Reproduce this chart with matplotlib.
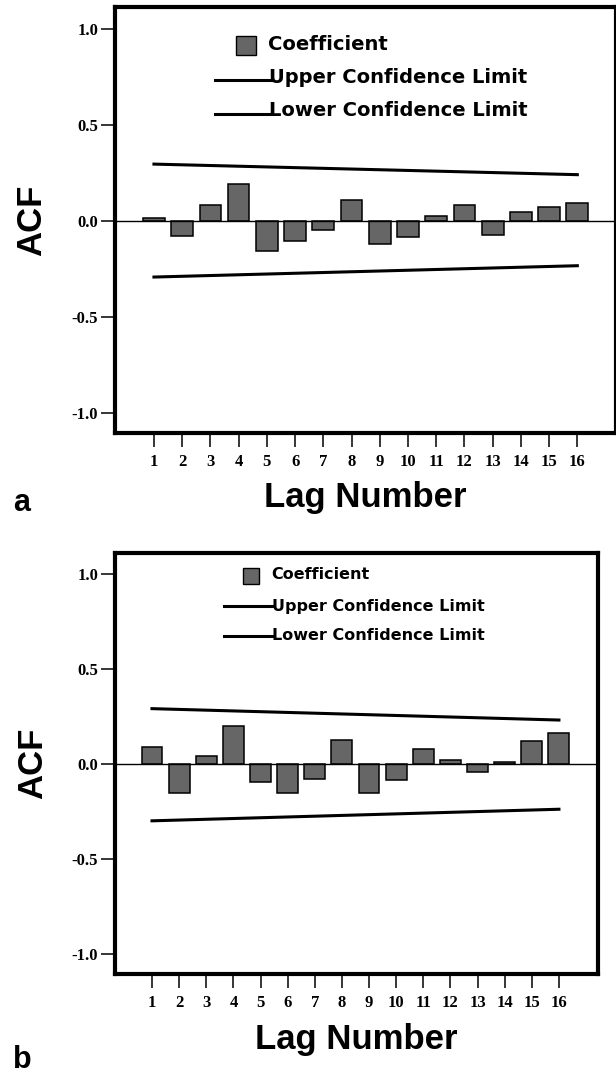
import matplotlib
matplotlib.use("Agg")
import matplotlib.pyplot as plt
from matplotlib.patches import Rectangle
from matplotlib.lines import Line2D

# figure size in pixels (dpi 100)
W, H = 616, 1075

# autocorrelation coefficients per lag
lags = list(range(1, 17))
acf_a = [0.017, -0.080, 0.082, 0.190, -0.156, -0.104, -0.049, 0.108,
         -0.122, -0.087, 0.024, 0.080, -0.073, 0.047, 0.071, 0.095]
acf_b = [0.089, -0.149, 0.042, 0.200, -0.096, -0.149, -0.079, 0.130,
         -0.151, -0.084, 0.079, 0.023, -0.040, 0.010, 0.123, 0.167]

# confidence limits at first and last lag
limit_lags = [1, 16]
upper_a = [0.295, 0.240]
lower_a = [-0.293, -0.234]
upper_b = [0.293, 0.233]
lower_b = [-0.298, -0.237]

legend_labels = ["Coefficient", "Upper Confidence Limit", "Lower Confidence Limit"]
yticks = [-1.0, -0.5, 0.0, 0.5, 1.0]

BAR_GREY = "#666666"
SERIF = "Liberation Serif"
SANS = "Liberation Sans"


def fx(x):
    return x / W


def fy(y):
    return 1 - y / H


fig = plt.figure(figsize=(W / 100, H / 100), dpi=100)


def draw_panel(box, xlim, acf, upper, lower, leg, leg_size, letter, letter_pos, xlabel_top, ylabel_x):
    left, top, right, bottom = box
    ax = fig.add_axes([fx(left), fy(bottom), fx(right) - fx(left), fy(top) - fy(bottom)])

    ax.bar(lags, acf, width=0.77, color=BAR_GREY, edgecolor="black", linewidth=1.1, zorder=2)
    ax.axhline(0, color="black", linewidth=1.0, zorder=3)
    ax.plot(limit_lags, upper, color="black", linewidth=2.2, zorder=3)
    ax.plot(limit_lags, lower, color="black", linewidth=2.2, zorder=3)

    ax.set_xlim(*xlim)
    ax.set_ylim(-1.105, 1.113)
    ax.set_xticks(lags, labels=[str(l) for l in lags],
                  fontfamily=SERIF, fontweight="bold", fontsize=12)
    ax.set_yticks(yticks, labels=[f"{v:.1f}" for v in yticks],
                  fontfamily=SERIF, fontweight="bold", fontsize=12)
    ax.tick_params(axis="x", direction="out", length=10, width=1.1, pad=5)
    ax.tick_params(axis="y", direction="out", length=10, width=1.1, pad=2)
    for sp in ax.spines.values():
        sp.set_linewidth(3)

    ax.set_xlabel("Lag Number", fontfamily=SANS, fontweight="bold", fontsize=25)
    ax.xaxis.set_label_coords(0.5, -(xlabel_top - bottom) / (bottom - top))
    ax.set_ylabel("ACF", fontfamily=SANS, fontweight="bold", fontsize=25)
    ax.yaxis.set_label_coords((ylabel_x - left) / (right - left), 0.5)

    # hand-placed legend
    x0, y0, x1, y1 = leg["square"]
    fig.add_artist(Rectangle((fx(x0), fy(y1)), fx(x1) - fx(x0), fy(y0) - fy(y1),
                             transform=fig.transFigure, facecolor=BAR_GREY,
                             edgecolor="black", linewidth=1.0))
    for (lx0, lx1, ly) in leg["lines"]:
        fig.add_artist(Line2D([fx(lx0), fx(lx1)], [fy(ly), fy(ly)],
                              transform=fig.transFigure, color="black", linewidth=2.2))
    for label, (tx, ty) in zip(legend_labels, leg["text"]):
        fig.text(fx(tx), fy(ty), label, fontfamily="DejaVu Sans", fontweight="bold",
                 fontsize=leg_size, ha="left", va="baseline")

    fig.text(fx(letter_pos[0]), fy(letter_pos[1]), letter, fontfamily=SANS,
             fontweight="bold", fontsize=22, ha="left", va="baseline")
    return ax


leg_a = {
    "square": (236, 36, 256, 55),
    "lines": [(215, 272, 80), (215, 272, 114)],
    "text": [(268, 50.5), (269, 83), (269, 116.5)],
}
leg_b = {
    "square": (242.5, 568, 259, 584),
    "lines": [(224, 273, 606), (224, 273, 636)],
    "text": [(271, 579), (272, 611), (272, 640.5)],
}

draw_panel((115, 7, 616, 433), (-0.38, 17.37), acf_a, upper_a, lower_a,
           leg_a, 14, "a", (13, 511), 481, 48)
draw_panel((115, 553, 598, 974), (-0.364, 17.44), acf_b, upper_b, lower_b,
           leg_b, 11.5, "b", (13, 1068), 1023.5, 49)

fig.savefig("out.png", dpi=100)
